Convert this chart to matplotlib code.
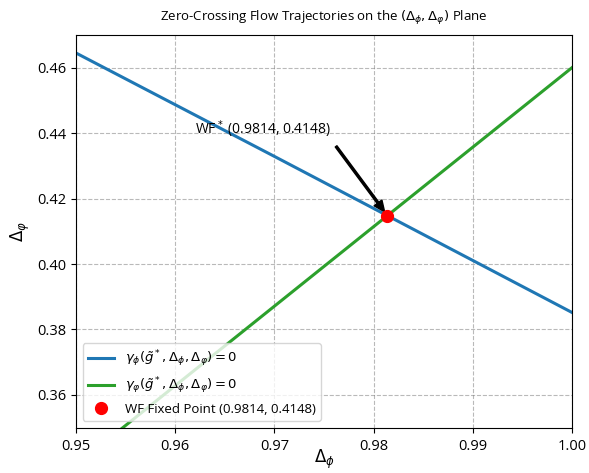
import numpy as np
import matplotlib.pyplot as plt

plt.rcParams['font.family'] = ['Open Sans', 'DejaVu Sans']
plt.rcParams['mathtext.fontset'] = 'dejavusans'

# values
delta_phi = [0.95, 0.96, 0.97, 0.98, 0.99, 1.00]
gamma_phi_zero = [0.4645, 0.4487, 0.4329, 0.4170, 0.4011, 0.3852]
gamma_varphi_zero = [0.3385, 0.3628, 0.3871, 0.4114, 0.4357, 0.4600]
wf_point = (0.9814, 0.4148)

fig = plt.figure(figsize=(5.89, 4.73), dpi=100)
ax = fig.add_axes([0.129, 0.096, 0.842, 0.83])

ax.plot(delta_phi, gamma_phi_zero, color='#1f77b4', lw=2.2,
        label=r'$\gamma_\phi(\tilde{g}^*, \Delta_\phi, \Delta_\varphi) = 0$')
ax.plot(delta_phi, gamma_varphi_zero, color='#2ca02c', lw=2.2,
        label=r'$\gamma_\varphi(\tilde{g}^*, \Delta_\phi, \Delta_\varphi) = 0$')
ax.plot(wf_point[0], wf_point[1], 'o', color='red', ms=8.5, zorder=5,
        label='WF Fixed Point (%.4f, %.4f)' % wf_point)

ax.annotate(r'WF$^*$ (%.4f, %.4f)' % wf_point, xy=wf_point, xytext=(0.962, 0.4398),
            fontsize=10,
            arrowprops=dict(facecolor='black', shrink=0.05, width=1.5, headwidth=7, headlength=8))

ax.set_xlim(0.95, 1.00)
ax.set_ylim(0.35, 0.47)
ax.set_xticks([0.95, 0.96, 0.97, 0.98, 0.99, 1.00])
ax.set_yticks([0.36, 0.38, 0.40, 0.42, 0.44, 0.46])
ax.tick_params(labelsize=10.5)
ax.tick_params(axis='x', pad=5)
ax.set_xlabel(r'$\Delta_\phi$', fontsize=12)
ax.xaxis.set_label_coords(0.5, -0.052)
ax.set_ylabel(r'$\Delta_\varphi$', fontsize=12)
ax.set_title(r'Zero-Crossing Flow Trajectories on the $(\Delta_\phi, \Delta_\varphi)$ Plane',
             fontsize=9.5, pad=10)
ax.grid(True, linestyle='--', color='gray', alpha=0.55)
ax.legend(loc='lower left', fontsize=9.5)

fig.savefig('out.png', dpi=100)
